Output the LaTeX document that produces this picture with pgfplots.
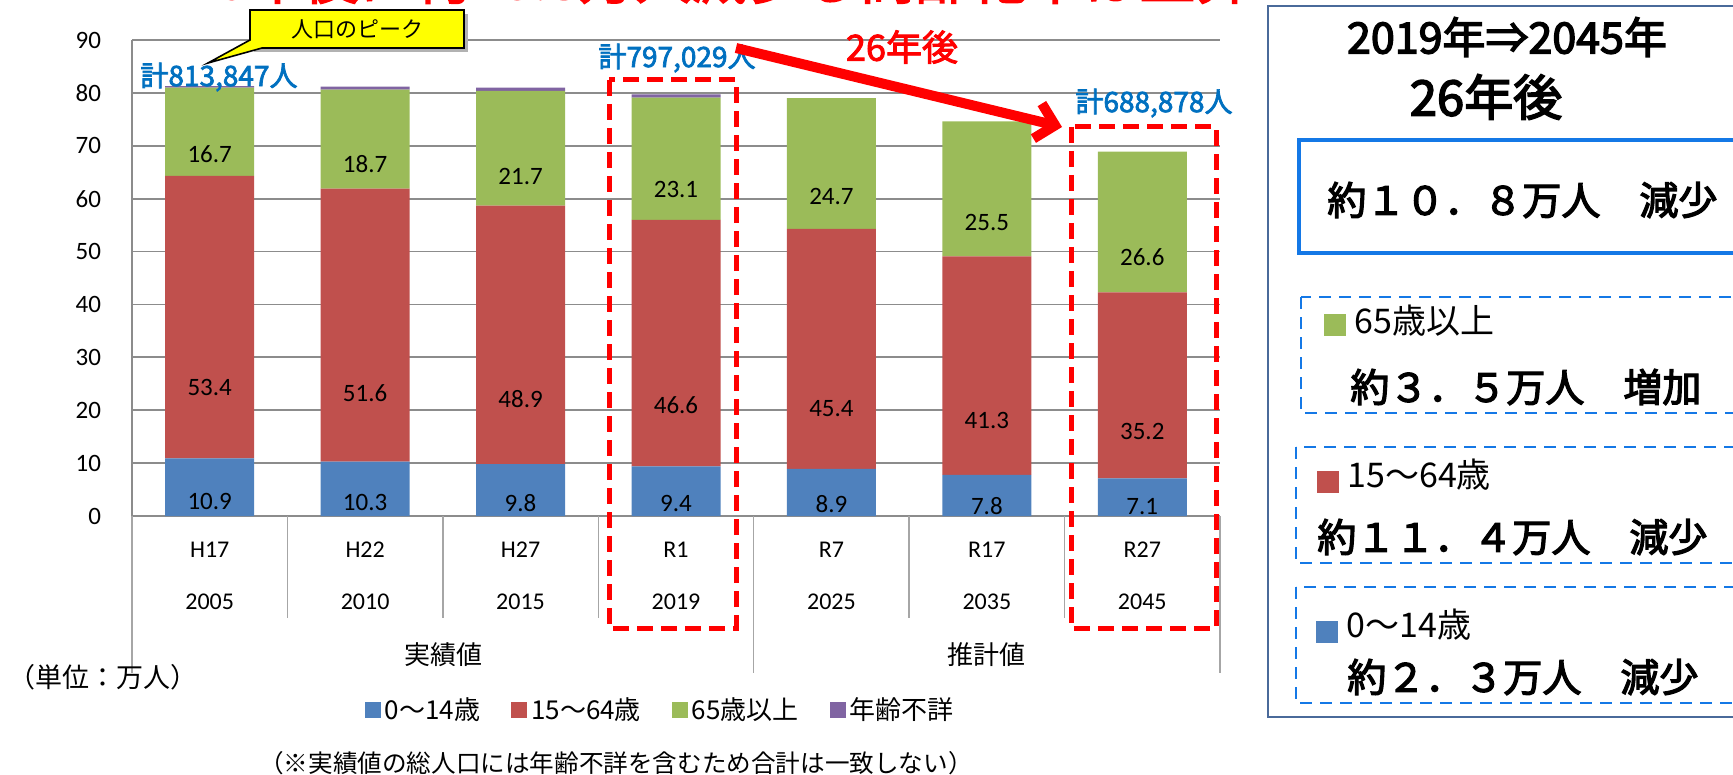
\documentclass[border=0pt]{standalone}
\usepackage{fontspec}
\setmainfont{Carlito}
\newfontfamily\jp{Noto Sans CJK JP}
\newfontfamily\jpb{Noto Sans CJK JP}[FakeBold=2.5]
\newfontfamily\jpbb{Noto Sans CJK JP}[FakeBold=3.2]
\usepackage{pgfplots}
\pgfplotsset{compat=1.18}
\usepackage{pgfplotstable}
\usetikzlibrary{arrows.meta}
\definecolor{cB}{HTML}{4F81BD}
\definecolor{cR}{HTML}{C0504D}
\definecolor{cG}{HTML}{9BBB59}
\definecolor{cP}{HTML}{8064A2}
\definecolor{axgray}{HTML}{8C8C8C}
\definecolor{sepgray}{HTML}{A6A6A6}
\definecolor{annblue}{HTML}{0070C0}
\definecolor{boxblue}{HTML}{1478E6}
\definecolor{panelborder}{HTML}{4A6A9A}
\definecolor{calloutyellow}{HTML}{FFFF00}

\pgfplotstableread{
x a b c d
0 10.9 53.4 16.7 0.3
1 10.3 51.6 18.7 0.6
2 9.8 48.9 21.7 0.6
3 9.4 46.6 23.1 0.6
4 8.9 45.4 24.7 0
5 7.8 41.3 25.5 0
6 7.1 35.2 26.6 0
}\popdata

\begin{document}
\begin{tikzpicture}[x=0.5pt,y=-0.5pt]
\path[use as bounding box] (0,0) rectangle (1733,775);
\clip (0,0) rectangle (1733,775);

% partially visible title at the top edge
\node[anchor=base west, inner sep=0pt, text=red, font=\jpb\fontsize{28}{28}\selectfont] at (184,-1) {26年後に約10.8万人減少し高齢化率は上昇};

\begin{axis}[
  at={(66pt,-258pt)}, anchor=south west,
  scale only axis, width=544pt, height=238pt,
  ybar stacked, bar width=44.5pt,
  xmin=-0.5, xmax=6.5, ymin=0, ymax=90,
  xtick={0,...,6},
  xticklabels={{H17\\2005},{H22\\2010},{H27\\2015},{R1\\2019},{R7\\2025},{R17\\2035},{R27\\2045}},
  xticklabel style={align=center, font=\fontsize{12}{26}\selectfont, yshift=-9.5pt},
  ytick={0,10,...,90},
  yticklabel style={font=\fontsize{12.5}{12.5}\selectfont, xshift=-12pt},
  /pgf/number format/assume math mode=true,
  major tick length=0pt,
  axis x line*=bottom, axis y line*=left,
  axis line style={-, draw=axgray, line width=0.85pt},
  ymajorgrids, grid style={draw=axgray, line width=0.85pt},
  legend columns=4,
  legend style={at={(0.4866,-0.4076)}, anchor=center, draw=none, fill=none,
    font=\jp\fontsize{13}{13}\selectfont,
    /tikz/every even column/.append style={column sep=13.5pt}},
  legend cell align=left,
  legend image code/.code={\fill[#1] (-1pt,-4pt) rectangle (7pt,4pt);},
]
\addplot[fill=cB, draw=none, point meta=explicit symbolic,
  nodes near coords={\pgfplotspointmeta},
  every node near coord/.append style={anchor=center, yshift={-\pgfplotspointmeta*0.66111pt}, font=\fontsize{12.5}{12.5}\selectfont, text=black}]
  table[x=x, y=a, meta=a] {\popdata};
\addplot[fill=cR, draw=none, point meta=explicit symbolic,
  nodes near coords={\pgfplotspointmeta},
  every node near coord/.append style={anchor=center, yshift={-\pgfplotspointmeta*0.66111pt}, font=\fontsize{12.5}{12.5}\selectfont, text=black}]
  table[x=x, y=b, meta=b] {\popdata};
\addplot[fill=cG, draw=none, point meta=explicit symbolic,
  nodes near coords={\pgfplotspointmeta},
  every node near coord/.append style={anchor=center, yshift={-\pgfplotspointmeta*0.66111pt}, font=\fontsize{12.5}{12.5}\selectfont, text=black}]
  table[x=x, y=c, meta=c] {\popdata};
\addplot[fill=cP, draw=none] table[x=x, y=d] {\popdata};
\legend{0～14歳,15～64歳,65歳以上,年齢不詳}
\end{axis}

% category separators
\foreach \k in {1,2,3,5,6} {
  \draw[sepgray, line width=0.75pt] ({132+\k*155.43},516) -- ({132+\k*155.43},618);
}
\foreach \k in {0,4,7} {
  \draw[sepgray, line width=0.75pt] ({132+\k*155.43},516) -- ({132+\k*155.43},673);
}
\node[font=\jp\fontsize{13}{13}\selectfont] at (443,655) {実績値};
\node[font=\jp\fontsize{13}{13}\selectfont] at (986,655) {推計値};
\node[anchor=west, inner sep=0pt, font=\jp\fontsize{13.5}{13.5}\selectfont] at (8,677) {（単位：万人）};
\node[font=\jp\fontsize{12.3}{12.3}\selectfont] at (616,763) {（※実績値の総人口には年齢不詳を含むため合計は一致しない）};

% callout
\fill[gray!60] (254,14) rectangle (468,52);
\draw[black, line width=0.8pt, fill=calloutyellow] (250,10) -- (464,10) -- (464,48) -- (262,48) -- (208,63) -- (250,40) -- cycle;
\node[font=\jp\fontsize{11}{11}\selectfont] at (357,29) {人口のピーク};

% totals
\node[text=annblue, font=\jpb\fontsize{14}{14}\selectfont] at (219,77) {計813,847人};
\node[text=annblue, font=\jpb\fontsize{14}{14}\selectfont] at (677,58) {計797,029人};
\node[text=annblue, font=\jpb\fontsize{14}{14}\selectfont] at (1154,103) {計688,878人};

% red dashed boxes and arrow
\draw[red, line width=2.5pt, dash pattern=on 8pt off 4pt] (609,80) rectangle (736,628);
\draw[red, line width=2.5pt, dash pattern=on 8pt off 4pt] (1071,127) rectangle (1216,628);
\draw[red, line width=5pt, -{Straight Barb[length=9pt,width=18pt]}] (736,48) -- (1062,127);
\node[text=red, font=\jpb\fontsize{18}{18}\selectfont] at (902,47) {26年後};

% right panel
\draw[panelborder, line width=0.6pt] (1268,6) rectangle (1760,717);
\node[font=\jpbb\fontsize{21.5}{21.5}\selectfont] at (1507,37) {2019年⇒2045年};
\node[font=\jpbb\fontsize{24.5}{24.5}\selectfont] at (1486,97) {26年後};
\draw[boxblue, line width=1.8pt] (1299,140) rectangle (1760,253);
\node[anchor=west, inner sep=0pt, font=\jpbb\fontsize{19.5}{19.5}\selectfont] at (1327,200) {約１０．８万人　減少};

\draw[boxblue, line width=1.4pt, dash pattern=on 6pt off 4pt] (1301,297) rectangle (1760,413);
\fill[cG] (1324,314) rectangle (1346,336);
\node[anchor=west, inner sep=0pt, font=\jp\fontsize{17}{17}\selectfont] at (1354,321) {65歳以上};
\node[anchor=west, inner sep=0pt, font=\jpbb\fontsize{19.5}{19.5}\selectfont] at (1350,387) {約３．５万人　増加};

\draw[boxblue, line width=1.4pt, dash pattern=on 6pt off 4pt] (1296,447) rectangle (1760,563);
\fill[cR] (1317,471) rectangle (1339,493);
\node[anchor=west, inner sep=0pt, font=\jp\fontsize{17}{17}\selectfont] at (1347,475) {15～64歳};
\node[anchor=west, inner sep=0pt, font=\jpbb\fontsize{19.5}{19.5}\selectfont] at (1317,537) {約１１．４万人　減少};

\draw[boxblue, line width=1.4pt, dash pattern=on 6pt off 4pt] (1296,587) rectangle (1760,703);
\fill[cB] (1316,621) rectangle (1338,643);
\node[anchor=west, inner sep=0pt, font=\jp\fontsize{17}{17}\selectfont] at (1346,625) {0～14歳};
\node[anchor=west, inner sep=0pt, font=\jpbb\fontsize{19.5}{19.5}\selectfont] at (1347,677) {約２．３万人　減少};
\end{tikzpicture}
\end{document}
